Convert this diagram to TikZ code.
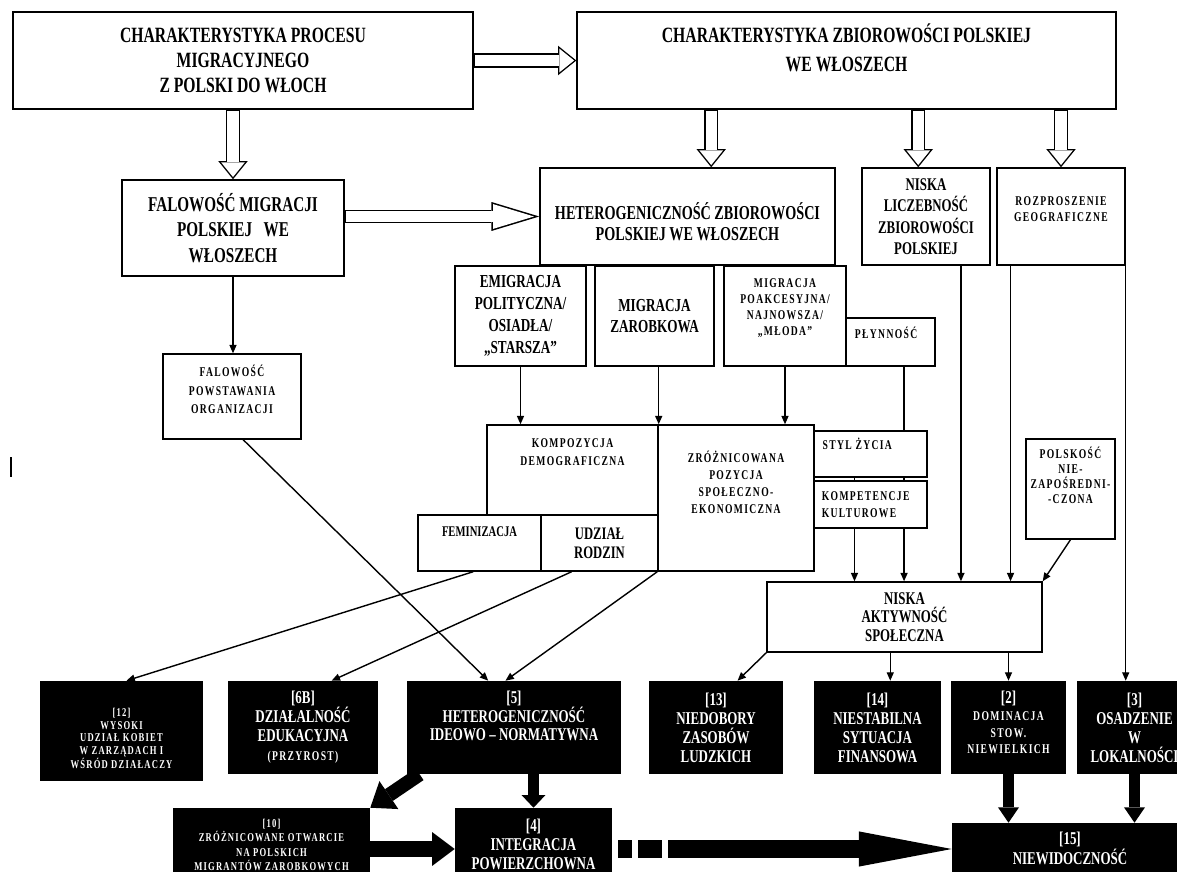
\documentclass[tikz,border=0pt]{standalone}
\usepackage{fontspec}
\setmainfont{Liberation Serif}[FakeStretch=0.72]
\newfontfamily\spacedfont{Liberation Serif}[FakeStretch=0.72, LetterSpace=10]
\usetikzlibrary{arrows.meta,calc}

\newcommand{\hollow}[2]{%
  \draw[hollowout] #1 -- #2;
  \draw[hollowin] #1 -- #2;}

\begin{document}
\begin{tikzpicture}[x=0.025cm, y=-0.025cm,
    box/.style={draw, line width=1pt, fill=white, align=center, inner sep=1pt},
    bbox/.style={fill=black, align=center, inner sep=1pt},
    sz/.style 2 args={minimum width=#1*0.025cm, minimum height=#2*0.025cm},
    big/.style={align=center, font=\bfseries\fontsize{15.5}{#1}\selectfont}, big/.default=18,
    mid/.style={align=center, font=\bfseries\fontsize{13}{15.5}\selectfont},
    small/.style={align=center, font=\spacedfont\bfseries\fontsize{9.5}{#1}\selectfont}, small/.default=12,
    bot/.style={text=white, align=center, font=\bfseries\fontsize{12.8}{#1}\selectfont}, bot/.default=13.5,
    tiny/.style={text=white, align=center, font=\spacedfont\bfseries\fontsize{8.5}{#1}\selectfont}, tiny/.default=9,
    flow/.style={line width=1pt, -{Triangle[length=6pt, width=5pt]}},
    link/.style={line width=1pt},
    fat/.style n args={3}{line width=#1, -{Triangle[length=#2, width=#3, line width=0pt]}},
    hollowout/.style={line width=10pt, -{Triangle[length=13pt, width=21pt, line width=0pt]}},
    hollowin/.style={white, line width=8pt, shorten <=0.8pt, shorten >=1.6pt,
      -{Triangle[length=10.4pt, width=16.8pt, line width=0pt]}},
    longout/.style={line width=9.5pt, -{Triangle[length=34pt, width=20.6pt, line width=0pt]}},
    longin/.style={white, line width=7.5pt, shorten <=0.8pt, shorten >=3.8pt,
      -{Triangle[length=29pt, width=17.6pt, line width=0pt]}}
  ]
  \useasboundingbox (0,0) rectangle (1177,872);
  \clip (0,0) rectangle (1177,872);

  % upper boxes
  \node[box, sz={460}{97}, big] (A) at (243,60.5) {CHARAKTERYSTYKA PROCESU\\MIGRACYJNEGO\\Z POLSKI DO WŁOCH};
  \node[box, sz={539}{97}, label={[big=20.5, yshift=0.325cm]center:{CHARAKTERYSTYKA ZBIOROWOŚCI POLSKIEJ\\WE WŁOSZECH}}] (B) at (846.5,60.5) {};
  \node[box, sz={222}{96}, font=\bfseries\fontsize{15}{18}\selectfont] (C) at (233,228) {FALOWOŚĆ MIGRACJI\\POLSKIEJ \ \ WE\\WŁOSZECH};
  \node[box, sz={295}{97}, label={[align=center, yshift=-0.125cm, font=\bfseries\fontsize{14}{15}\selectfont]center:{HETEROGENICZNOŚĆ ZBIOROWOŚCI\\POLSKIEJ WE WŁOSZECH}}] (D) at (687.5,216.5) {};
  \node[box, sz={128}{97}, font=\bfseries\fontsize{12.7}{15.2}\selectfont] (E) at (926,216.5) {NISKA\\LICZEBNOŚĆ\\ZBIOROWOŚCI\\POLSKIEJ};
  \node[box, sz={128}{97}, label={[small=11.5, yshift=0.175cm]center:{ROZPROSZENIE\\GEOGRAFICZNE}}] (F) at (1061,216.5) {};

  % types of migration
  \node[box, sz={131}{100}, mid] (G) at (520.5,316) {EMIGRACJA\\POLITYCZNA/\\OSIADŁA/\\„STARSZA”};
  \node[box, sz={119}{100}, mid] (H) at (654.5,316) {MIGRACJA\\ZAROBKOWA};
  \node[box, sz={122}{100}, label={[small=11.4, yshift=0.2cm]center:{MIGRACJA\\POAKCESYJNA/\\NAJNOWSZA/\\„MŁODA”}}] (I) at (785,316) {};
  \node[box, sz={89}{48}, label={[small, xshift=-0.11cm, yshift=0.225cm]center:PŁYNNOŚĆ}] (J) at (890.5,342) {};
  \node[box, sz={138}{85}, label={[small=13, yshift=0.175cm]center:{FALOWOŚĆ\\POWSTAWANIA\\ORGANIZACJI}}] (R) at (232,396.5) {};

  % features
  \node[box, sz={171}{90}, label={[small=12.8, yshift=0.45cm]center:{KOMPOZYCJA\\DEMOGRAFICZNA}}] (K) at (572.5,470) {};
  \node[box, sz={123}{56}, label={[yshift=0.275cm, font=\bfseries\fontsize{10.5}{12}\selectfont]center:FEMINIZACJA}] (L) at (479.5,543) {};
  \node[box, sz={117}{56}, font=\bfseries\fontsize{12.5}{13.5}\selectfont] (M) at (599.5,543) {UDZIAŁ\\RODZIN};
  \node[box, sz={156}{146}, label={[small, yshift=0.39cm]center:{ZRÓŻNICOWANA\\POZYCJA\\SPOŁECZNO-\\EKONOMICZNA}}] (N) at (736,498) {};
  \node[box, sz={113}{46}, label={[small, xshift=-0.33cm, yshift=0.25cm]center:{STYL ŻYCIA}}] (O) at (870.5,454) {};
  \node[box, sz={113}{47}, label={[small, align=left, xshift=-0.12cm]center:{KOMPETENCJE\\KULTUROWE}}] (P) at (870.5,504.5) {};
  \node[box, sz={89}{100}, label={[small=10.7, yshift=0.35cm]center:{POLSKOŚĆ\\NIE-\\ZAPOŚREDNI-\\-CZONA}}] (Q) at (1070.5,489) {};
  \node[box, sz={275}{70}, font=\bfseries\fontsize{12.7}{13.2}\selectfont] (S) at (904.5,617) {NISKA\\AKTYWNOŚĆ\\SPOŁECZNA};

  % effects
  \node[bbox, sz={163}{100}, label={[tiny, yshift=-0.19cm]center:{[12]\\WYSOKI\\UDZIAŁ KOBIET\\W ZARZĄDACH I\\WŚRÓD DZIAŁACZY}}] (B12) at (121.5,731) {};
  \node[bbox, bot, sz={150}{93}] (B6) at (303,727.5) {[6B]\\DZIAŁALNOŚĆ\\EDUKACYJNA\\{\spacedfont\fontsize{9.5}{12}\selectfont (PRZYROST)}};
  \node[bbox, sz={214}{93}, label={[bot, yshift=0.29cm]center:{[5]\\HETEROGENICZNOŚĆ\\IDEOWO – NORMATYWNA}}] (B5) at (514,727.5) {};
  \node[bbox, bot, sz={134}{93}] (B13) at (716,727.5) {[13]\\NIEDOBORY\\ZASOBÓW\\LUDZKICH};
  \node[bbox, bot, sz={127}{93}] (B14) at (877.5,727.5) {[14]\\NIESTABILNA\\SYTUACJA\\FINANSOWA};
  \node[bbox, sz={115}{93}, label={[bot=12, yshift=0.125cm]center:{[2]\\{\spacedfont\fontsize{9.5}{12}\selectfont DOMINACJA}\\{\spacedfont\fontsize{9.5}{12}\selectfont STOW.}\\{\spacedfont\fontsize{9.5}{12}\selectfont NIEWIELKICH}}}] (B2) at (1008.5,727.5) {};
  \node[bbox, bot, sz={115}{93}] (B3) at (1134.5,727.5) {[3]\\OSADZENIE\\W\\LOKALNOŚCI};
  \node[bbox, sz={197}{82}, label={[tiny=10.4, yshift=0.1cm]center:{[10]\\ZRÓŻNICOWANE OTWARCIE\\NA POLSKICH\\MIGRANTÓW ZAROBKOWYCH}}] (B10) at (271.5,849) {};
  \node[bbox, sz={157}{82}, label={[bot, yshift=0.125cm]center:{[4]\\INTEGRACJA\\POWIERZCHOWNA}}] (B4) at (533.5,849) {};
  \node[bbox, sz={236}{77}, label={[bot=12, yshift=0.325cm]center:{[15]\\NIEWIDOCZNOŚĆ}}] (B15) at (1070,861.5) {};

  % hollow arrows
  \coordinate (bd) at ($(D.north west)!0.58!(D.north east)$);
  \coordinate (be) at ($(E.north west)!0.44!(E.north east)$);
  \hollow{(A.east)}{(B.west)}
  \hollow{(C.north |- A.south)}{(C.north)}
  \hollow{(bd |- B.south)}{(bd)}
  \hollow{(be |- B.south)}{(be)}
  \hollow{(F.north |- B.south)}{(F.north)}
  \draw[longout] (D.west -| C.east) -- (D.west);
  \draw[longin] (D.west -| C.east) -- (D.west);

  % thin connectors
  \coordinate (jx) at ($(J.south west)!0.65!(J.south east)$);
  \coordinate (kx) at ($(O.south west)!0.36!(O.south east)$);
  \coordinate (ex) at ($(E.south west)!0.77!(E.south east)$);
  \coordinate (fx) at ($(F.south west)!0.11!(F.south east)$);
  \coordinate (fr) at ($(F.north east)!0.8!(F.south east)$);
  \coordinate (sx) at ($(B14.north west)!0.6!(B14.north east)$);
  \draw[flow] (C.south) -- (C.south |- R.north);
  \draw[flow] (G.south) -- (G.south |- K.north);
  \draw[flow] (H.south -| K.north east) -- (K.north east);
  \draw[flow] (I.south) -- (I.south |- N.north);
  \draw[link] (jx) -- (jx |- O.north);
  \draw[link] (jx |- O.south) -- (jx |- P.north);
  \draw[link] (kx) -- (kx |- P.north);
  \draw[flow] (jx |- P.south) -- (jx |- S.north);
  \draw[flow] (kx |- P.south) -- (kx |- S.north);
  \draw[flow] (ex) -- (ex |- S.north);
  \draw[flow] (fx) -- (fx |- S.north);
  \draw[flow] (fr) -- (fr |- B3.north);
  \draw[flow] (Q.south) -- (S.north east);
  \draw[flow] ($(R.south west)!0.58!(R.south east)$) -- ($(B5.north west)!0.38!(B5.north east)$);
  \draw[flow] ($(L.south west)!0.45!(L.south east)$) -- ($(B12.north west)!0.53!(B12.north east)$);
  \draw[flow] ($(M.south west)!0.265!(M.south east)$) -- ($(B6.north west)!0.69!(B6.north east)$);
  \draw[flow] (N.south west) -- ($(B5.north west)!0.46!(B5.north east)$);
  \draw[flow] (S.south west) -- ($(B13.north west)!0.66!(B13.north east)$);
  \draw[flow] (sx |- S.south) -- (sx);
  \draw[flow] (B2.north |- S.south) -- (B2.north);

  % thick arrows
  \draw[fat={10pt}{16pt}{24pt}] ($(B5.south west)!0.06!(B5.south east)$) -- (B10.north east);
  \draw[fat={8pt}{9pt}{17pt}] (B4.north |- B5.south) -- (B4.north);
  \draw[fat={11.4pt}{16pt}{24pt}] (B10.east) -- (B4.west);
  \draw[fat={12.8pt}{66pt}{25pt}, dash pattern=on 0pt off 4.3pt on 10pt off 4.3pt on 17pt off 4.3pt on 800pt] (B4.east) -- (B4.east -| B15.west);
  \draw[fat={8.5pt}{11pt}{15pt}] (B2.south) -- (B2.south |- B15.north);
  \draw[fat={8.5pt}{11pt}{15pt}] (B3.south) -- (B3.south |- B15.north);

  \draw[line width=1.6pt] (11,457) -- (11,477);
\end{tikzpicture}
\end{document}
